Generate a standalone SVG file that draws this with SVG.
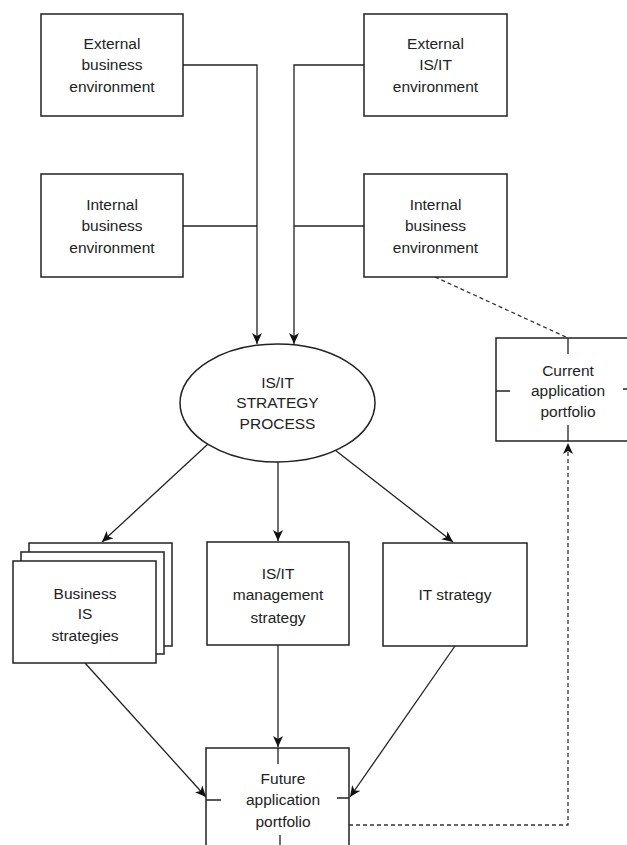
<svg xmlns="http://www.w3.org/2000/svg" width="627" height="845" viewBox="0 0 627 845">
<style>
.box{fill:#fff;stroke:#222;stroke-width:1.5}
.ln{fill:none;stroke:#222;stroke-width:1.3}
.dash{fill:none;stroke:#333;stroke-width:1.3;stroke-dasharray:4 3}
text{font-family:"Liberation Sans",Arial,sans-serif;font-size:15.5px;fill:#222;text-anchor:middle}
</style>
<defs>
<marker id="ah" markerWidth="12" markerHeight="11" refX="11" refY="5.5" orient="auto" markerUnits="userSpaceOnUse">
<path d="M0,0.5 L11,5.5 L0,10.5 L3,5.5 z" fill="#111"/>
</marker>
</defs>
<rect width="627" height="845" fill="#fff"/>

<g id="connectors">
<path class="ln" d="M183,65 H257 V344" marker-end="url(#ah)"/>
<path class="ln" d="M183,226 H257"/>
<path class="ln" d="M364,65 H294 V344" marker-end="url(#ah)"/>
<path class="ln" d="M364,226 H294"/>
<path class="ln" d="M208,444 L102,542" marker-end="url(#ah)"/>
<path class="ln" d="M278,462 V541" marker-end="url(#ah)"/>
<path class="ln" d="M335,450 L453,542" marker-end="url(#ah)"/>
<path class="ln" d="M85,663 L206,797" marker-end="url(#ah)"/>
<path class="ln" d="M278,644 V747" marker-end="url(#ah)"/>
<path class="ln" d="M455,646 L350,797" marker-end="url(#ah)"/>
<path class="dash" d="M435,277 L568,338"/>
<path class="dash" d="M349,825 H568 V443" marker-end="url(#ah)"/>
</g>

<g id="ext-business">
<rect class="box" x="41" y="14" width="142" height="102"/>
<text x="112" y="48.5">External</text>
<text x="112" y="69.5">business</text>
<text x="112" y="91.5">environment</text>
</g>
<g id="int-business-left">
<rect class="box" x="41" y="174" width="142" height="103"/>
<text x="112" y="209.5">Internal</text>
<text x="112" y="230.5">business</text>
<text x="112" y="252.5">environment</text>
</g>
<g id="ext-isit">
<rect class="box" x="364" y="14" width="143" height="102"/>
<text x="435.5" y="48.5">External</text>
<text x="435.5" y="69.5">IS/IT</text>
<text x="435.5" y="91.5">environment</text>
</g>
<g id="int-business-right">
<rect class="box" x="364" y="174" width="143" height="103"/>
<text x="435.5" y="209.5">Internal</text>
<text x="435.5" y="230.5">business</text>
<text x="435.5" y="252.5">environment</text>
</g>
<g id="strategy-process">
<ellipse class="box" cx="277.5" cy="403" rx="97.5" ry="59"/>
<text x="277.5" y="387.5">IS/IT</text>
<text x="277.5" y="408">STRATEGY</text>
<text x="277.5" y="428.5">PROCESS</text>
</g>
<g id="current-portfolio">
<rect class="box" x="496" y="338" width="144" height="103"/>
<path class="ln" d="M568,338 V354 M496,391 H510 M568,425 V441 M623,389 H640"/>
<text x="568" y="375.5">Current</text>
<text x="568" y="395.5">application</text>
<text x="568" y="416.5">portfolio</text>
</g>
<g id="business-is">
<rect class="box" x="29" y="543" width="143" height="103"/>
<rect class="box" x="21" y="552" width="143" height="102"/>
<rect class="box" x="13" y="561" width="143" height="102"/>
<text x="85" y="598.5">Business</text>
<text x="85" y="618.5">IS</text>
<text x="85" y="640.5">strategies</text>
</g>
<g id="isit-management">
<rect class="box" x="207" y="542" width="142" height="103"/>
<text x="278" y="578.5">IS/IT</text>
<text x="278" y="599.5">management</text>
<text x="278" y="622.5">strategy</text>
</g>
<g id="it-strategy">
<rect class="box" x="383" y="543" width="144" height="103"/>
<text x="455" y="599.5">IT strategy</text>
</g>
<g id="future-portfolio">
<rect class="box" x="206" y="748" width="143" height="112"/>
<path class="ln" d="M278,748 V764 M206,800 H221 M337,798 H349 M280,835 V860"/>
<text x="283" y="783.5">Future</text>
<text x="283" y="804.5">application</text>
<text x="283" y="826.5">portfolio</text>
</g>
</svg>
